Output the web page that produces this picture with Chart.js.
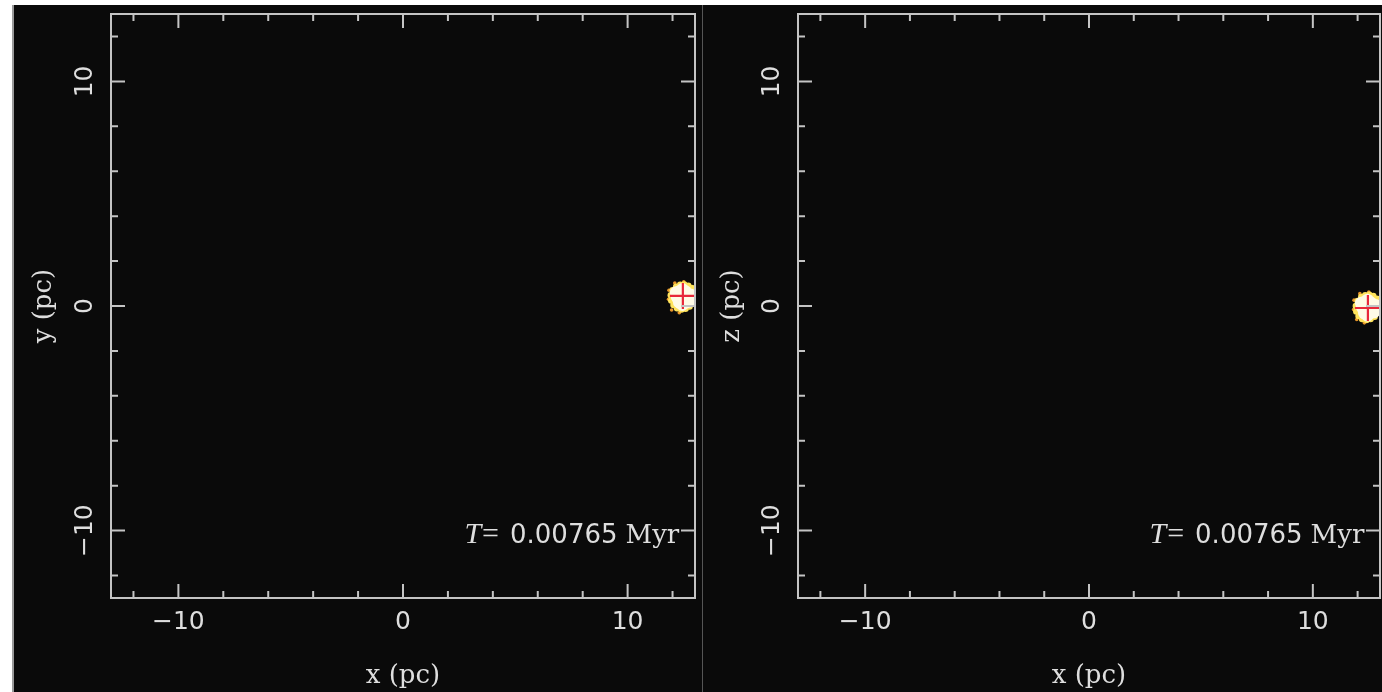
<!DOCTYPE html>
<html>
<head>
<meta charset="utf-8">
<script src="https://cdn.jsdelivr.net/npm/chart.js@4.4.0/dist/chart.umd.min.js"></script>
<style>
  html, body { margin: 0; padding: 0; background: #ffffff; width: 1382px; height: 692px; overflow: hidden; }
  #backdrop { position: absolute; left: 12px; top: 5px; width: 1370px; height: 687px; background: #0a0a0a; }
  .rule { position: absolute; top: 5px; height: 687px; }
  canvas { position: absolute; }
</style>
</head>
<body>
<div id="backdrop"></div>
<div class="rule" style="left:12px;width:2px;background:#9a9a9a"></div>
<div class="rule" style="left:702px;width:1px;background:#555555"></div>
<canvas id="panelXY" width="690" height="687" style="left:12px;top:5px;width:690px;height:687px"></canvas>
<canvas id="panelXZ" width="679" height="687" style="left:703px;top:5px;width:679px;height:687px"></canvas>
<script>
// Axis extent and tick marks (pc)
const axisMin = -13;
const axisMax = 13;
const majorTicks = [-10, 0, 10];
const minorTicks = [-12, -8, -6, -4, -2, 2, 4, 6, 8, 12];

// Cluster stars: dense core, yellow envelope, sparse outskirts (pc)
const coreX = [12.44, 12.20, 12.68, 12.30, 12.58, 12.30, 12.58, 12.44, 12.44, 12.16, 12.72, 12.80];
const coreY = [0.40, 0.40, 0.40, 0.64, 0.64, 0.16, 0.16, 0.74, 0.06, 0.60, 0.20, 0.50];
const coreZ = [-0.07, -0.05, -0.09, 0.17, 0.15, -0.31, -0.29, 0.27, -0.41, 0.13, -0.27, 0.03];

const haloX = [12.98, 12.94, 12.86, 12.70, 12.52, 12.34, 12.16, 12.00, 11.92, 11.94, 12.04, 12.20, 12.40, 12.58, 12.76, 12.90];
const haloY = [0.42, 0.62, 0.80, 0.90, 0.96, 0.95, 0.86, 0.70, 0.48, 0.24, 0.04, -0.10, -0.16, -0.12, -0.02, 0.16];
const haloZ = [-0.05, 0.15, 0.33, 0.45, 0.50, 0.48, 0.40, 0.22, 0.00, -0.24, -0.44, -0.58, -0.62, -0.58, -0.48, -0.30];

const outerX = [11.84, 12.10, 12.50, 13.02, 12.30, 11.96, 11.82];
const outerY = [0.70, 1.02, 1.08, 0.10, -0.30, -0.18, 0.30];
const outerZ = [0.26, 0.55, 0.62, -0.36, -0.75, -0.60, -0.16];

// Cluster centre (x, y, z) in pc
const centreXYZ = [12.46, 0.45, -0.09];

// Elapsed time stamp
const timeParts = ['T', '=', '0.00765', 'Myr'];

const AXIS_COLOUR = '#c4c4c4';
const TEXT_COLOUR = '#dedede';

const pairs = (xs, vs) => xs.map((x, i) => ({ x: x, y: vs[i] }));
const tickText = v => (v < 0 ? '\u2212' + Math.abs(v) : String(v));

// Box frame with inward-pointing tick marks on all four sides
const frameTicks = {
  id: 'frameTicks',
  afterDraw(chart) {
    const { ctx, chartArea: a, scales: { x, y } } = chart;
    ctx.save();
    ctx.strokeStyle = AXIS_COLOUR;
    ctx.lineWidth = 2;
    ctx.strokeRect(a.left, a.top, a.right - a.left, a.bottom - a.top);
    const mark = (values, len) => {
      ctx.beginPath();
      for (const v of values) {
        const px = x.getPixelForValue(v);
        const py = y.getPixelForValue(v);
        ctx.moveTo(px, a.bottom); ctx.lineTo(px, a.bottom - len);
        ctx.moveTo(px, a.top); ctx.lineTo(px, a.top + len);
        ctx.moveTo(a.left, py); ctx.lineTo(a.left + len, py);
        ctx.moveTo(a.right, py); ctx.lineTo(a.right - len, py);
      }
      ctx.stroke();
    };
    mark(minorTicks, 7);
    mark(majorTicks, 14);
    ctx.restore();
  }
};

// "T= 0.00765 Myr" anchored by its right end and baseline in data units
const timeStamp = {
  id: 'timeStamp',
  afterDatasetsDraw(chart, args, opts) {
    const { ctx, scales: { x, y } } = chart;
    const styles = [
      { font: 'italic 30px "Liberation Serif"', gap: 1 },
      { font: '30px "Liberation Serif"', gap: 11 },
      { font: '26px "DejaVu Sans"', gap: 8 },
      { font: '26px "DejaVu Serif"', gap: 0 }
    ];
    let cx = x.getPixelForValue(opts.right);
    const by = y.getPixelForValue(opts.baseline);
    ctx.save();
    ctx.fillStyle = TEXT_COLOUR;
    ctx.textAlign = 'right';
    ctx.textBaseline = 'alphabetic';
    for (let i = timeParts.length - 1; i >= 0; i--) {
      ctx.font = styles[i].font;
      ctx.fillText(timeParts[i], cx, by);
      const prevGap = i > 0 ? styles[i - 1].gap : 0;
      cx -= ctx.measureText(timeParts[i]).width + prevGap;
    }
    ctx.restore();
  }
};

// Tick labels sit well inside the axis ends, so no extra edge padding is needed
function noEdgePadding(s) {
  s.paddingLeft = 0; s.paddingRight = 0; s.paddingTop = 0; s.paddingBottom = 0;
}

function buildPanel(canvasId, vertical, vertTitle, box) {
  const vs = vertical === 'y'
    ? { core: coreY, halo: haloY, outer: outerY, c: centreXYZ[1] }
    : { core: coreZ, halo: haloZ, outer: outerZ, c: centreXYZ[2] };
  const majorOnly = s => { s.ticks = majorTicks.map(v => ({ value: v })); };
  return new Chart(document.getElementById(canvasId), {
    type: 'scatter',
    data: {
      datasets: [
        { data: [{ x: centreXYZ[0], y: vs.c }], pointStyle: 'cross', pointRadius: 13,
          pointBorderColor: '#e8283a', pointBorderWidth: 2.2, clip: 0 },
        { data: pairs(coreX, vs.core), pointRadius: 6.3, pointBorderWidth: 0,
          pointBackgroundColor: '#fffbe6', clip: 0 },
        { data: pairs(haloX, vs.halo), pointRadius: 3.2, pointBorderWidth: 0,
          pointBackgroundColor: '#ffe45c', clip: 0 },
        { data: pairs(outerX, vs.outer), pointRadius: 1.8, pointBorderWidth: 0,
          pointBackgroundColor: '#e8962a', clip: 0 }
      ]
    },
    options: {
      responsive: false,
      animation: false,
      events: [],
      layout: { autoPadding: false, padding: { left: 0, right: box.right, top: 9, bottom: 0 } },
      plugins: {
        legend: { display: false },
        tooltip: { enabled: false },
        timeStamp: { right: 12.3, baseline: -10.56 }
      },
      scales: {
        x: {
          type: 'linear', min: axisMin, max: axisMax,
          afterBuildTicks: majorOnly,
          afterFit: s => { s.height = 94; noEdgePadding(s); },
          grid: { display: false, drawTicks: false },
          border: { display: false },
          ticks: { color: TEXT_COLOUR, padding: 9, font: { family: 'DejaVu Sans', size: 25 }, callback: tickText },
          title: { display: true, text: 'x (pc)', color: TEXT_COLOUR,
                   font: { family: 'DejaVu Serif', size: 26, lineHeight: 1.2 }, padding: { top: 0, bottom: 0 } }
        },
        y: {
          type: 'linear', min: axisMin, max: axisMax,
          afterBuildTicks: majorOnly,
          afterFit: s => { s.width = box.left; noEdgePadding(s); },
          grid: { display: false, drawTicks: false },
          border: { display: false },
          ticks: { color: TEXT_COLOUR, padding: box.tickPad, minRotation: 90, maxRotation: 90, crossAlign: 'center',
                   font: { family: 'DejaVu Sans', size: 25 }, callback: tickText },
          title: { display: true, text: vertTitle, color: TEXT_COLOUR,
                   font: { family: 'DejaVu Serif', size: 26, lineHeight: 1.2 }, padding: { top: box.titlePad, bottom: 0 } }
        }
      }
    },
    plugins: [timeStamp, frameTicks]
  });
}

buildPanel('panelXY', 'y', 'y (pc)', { left: 99, right: 7, tickPad: -1, titlePad: 17 });
buildPanel('panelXZ', 'z', 'z (pc)', { left: 95, right: 2, tickPad: -1, titlePad: 14 });
</script>
</body>
</html>
